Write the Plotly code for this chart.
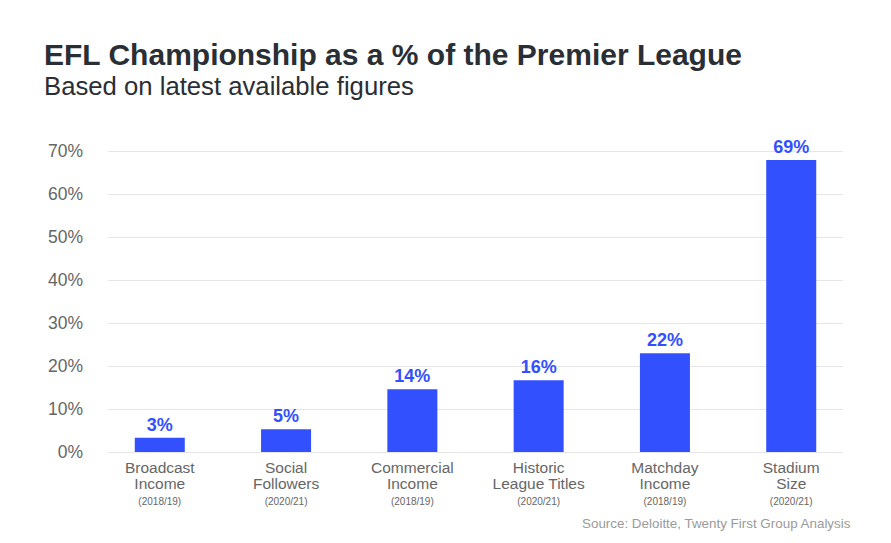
import plotly.graph_objects as go

# Data
categories = ["Broadcast<br>Income", "Social<br>Followers", "Commercial<br>Income",
              "Historic<br>League Titles", "Matchday<br>Income", "Stadium<br>Size"]
seasons = ["(2018/19)", "(2020/21)", "(2018/19)", "(2020/21)", "(2018/19)", "(2020/21)"]
bar_values = [3.3, 5.3, 14.6, 16.7, 23.0, 68.0]
bar_labels = ["3%", "5%", "14%", "16%", "22%", "69%"]
y_ticks = [0, 10, 20, 30, 40, 50, 60, 70]

# page body has an 8px margin, so the figure is shifted by that much
OFF = 8
W, H = 891 - OFF, 543 - OFF
L, R, T, B = 108 - OFF, 48, 147 - OFF, 91


def px_x(px):
    return (px - OFF - L) / (W - L - R)


def px_y(py):
    return (H - B - (py - OFF)) / (H - T - B)


tick_text = [
    f"<span style='font-size:15.5px'>{c.replace('<br>', '</span><br><span style=\"font-size:15.5px\">')}</span>"
    f"<br><span style='font-size:10px'>{s}</span>"
    for c, s in zip(categories, seasons)
]

fig = go.Figure()
fig.add_trace(go.Bar(
    x=list(range(len(categories))),
    y=bar_values,
    width=0.396,
    marker=dict(color="#3350ff", line=dict(width=0)),
    text=bar_labels,
    textposition="outside",
    textfont=dict(family="Liberation Sans", size=18, color="#3350ff", weight="bold"),
    cliponaxis=False,
    hoverinfo="skip",
))

fig.update_layout(
    width=W, height=H,
    margin=dict(l=L, r=R, t=T, b=B),
    plot_bgcolor="white", paper_bgcolor="white",
    showlegend=False,
    font=dict(family="Liberation Sans", color="#666666"),
    annotations=[
        dict(text="<b>EFL Championship as a % of the Premier League</b>",
             x=px_x(42), y=px_y(55), xref="paper", yref="paper",
             xanchor="left", yanchor="middle", showarrow=False,
             font=dict(size=30, color="#2a2e35")),
        dict(text="Based on latest available figures",
             x=px_x(42), y=px_y(86), xref="paper", yref="paper",
             xanchor="left", yanchor="middle", showarrow=False,
             font=dict(size=25.7, color="#2a2e35")),
        dict(text="Source: Deloitte, Twenty First Group Analysis",
             x=px_x(853), y=px_y(523), xref="paper", yref="paper",
             xanchor="right", yanchor="middle", showarrow=False,
             font=dict(size=13.4, color="#9a9a9a")),
    ],
)

fig.update_xaxes(
    range=[-0.41, 5.41],
    tickvals=list(range(len(categories))),
    ticktext=tick_text,
    tickfont=dict(size=12.3, color="#666666"),
    showgrid=False, showline=False, zeroline=False,
    ticks="",
    ticklabelstandoff=8,
)
fig.update_yaxes(
    range=[0, 71],
    tickvals=y_ticks,
    ticktext=[f"{v}%" for v in y_ticks],
    tickfont=dict(size=17.5, color="#666666"),
    showgrid=True, gridcolor="#e6e6e6", gridwidth=1,
    zeroline=True, zerolinecolor="#e6e6e6", zerolinewidth=1,
    showline=False, ticks="",
    ticklabelstandoff=24,
)

fig.write_html("out.html")
